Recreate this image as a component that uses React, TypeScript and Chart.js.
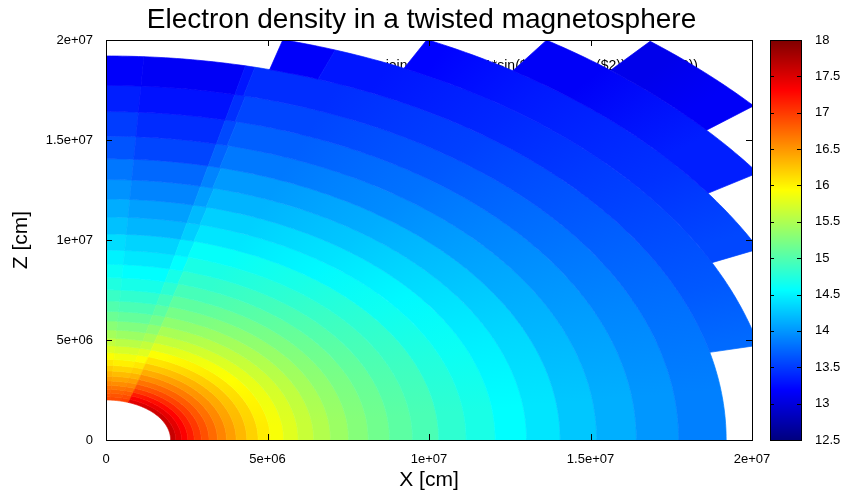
import React, { useEffect, useRef } from 'react';
import { Chart, registerables } from 'chart.js';

Chart.register(...registerables);

// ---------- data ----------
// radial cell edges, in units of 1e6 cm
const radialEdges = [
  2.0, 2.16, 2.34, 2.53, 2.73, 2.95, 3.19, 3.45, 3.73, 4.03, 4.36, 4.71, 5.09, 5.5, 5.95, 6.43, 6.95,
  7.51, 8.12, 8.78, 9.49, 10.3, 11.15, 12.05, 13.02, 14.06, 15.19, 16.42, 17.73, 19.2, 20.75, 22.35,
  24.2, 26.1,
];
// angular sector edges, degrees measured from the +Z axis
const thetaEdges = [0, 3.5, 13, 20, 30, 45, 60, 75, 90];
// the polar-cap boundary (edge index 3) is twisted: its angle for each shell
const capBoundary = [
  20.3, 20.0, 19.7, 19.4, 19.1, 18.8, 18.5, 18.2, 17.9, 17.6, 17.4, 17.2, 17.0, 16.9, 16.7, 16.5, 16.3,
  16.1, 15.9, 15.7, 15.5, 15.3, 15.1, 14.9, 14.7, 14.5, 14.3, 14.1, 13.9, 20, 20, 20, 20,
];
// angular extent of the four outermost (twisted) shells
const outerShellSpan = [
  [15.3, 76.8],
  [26.4, 64.7],
  [34.3, 56.5],
  [40.2, 50.2],
];
// log10 electron density; one row per shell, one column per angular sector
const logNe: (number | null)[][] = [
  [16.92, 16.92, 16.97, 17.47, 17.54, 17.58, 17.6, 17.62],
  [16.86, 16.86, 16.9, 17.33, 17.4, 17.44, 17.46, 17.48],
  [16.79, 16.78, 16.81, 17.17, 17.24, 17.29, 17.31, 17.33],
  [16.7, 16.67, 16.7, 17.0, 17.07, 17.12, 17.15, 17.17],
  [16.58, 16.55, 16.58, 16.84, 16.91, 16.97, 17.0, 17.02],
  [16.46, 16.43, 16.46, 16.69, 16.76, 16.82, 16.85, 16.88],
  [16.34, 16.3, 16.34, 16.54, 16.61, 16.67, 16.71, 16.74],
  [16.2, 16.16, 16.2, 16.38, 16.46, 16.52, 16.57, 16.6],
  [16.06, 16.02, 16.06, 16.23, 16.31, 16.38, 16.42, 16.46],
  [15.92, 15.87, 15.92, 16.07, 16.16, 16.23, 16.28, 16.32],
  [15.76, 15.72, 15.77, 15.92, 16.01, 16.08, 16.14, 16.18],
  [15.61, 15.56, 15.62, 15.76, 15.86, 15.94, 15.99, 16.04],
  [15.45, 15.4, 15.47, 15.61, 15.71, 15.79, 15.85, 15.9],
  [15.3, 15.25, 15.33, 15.47, 15.57, 15.65, 15.72, 15.77],
  [15.14, 15.1, 15.19, 15.33, 15.43, 15.52, 15.59, 15.64],
  [15.0, 14.96, 15.06, 15.2, 15.3, 15.39, 15.46, 15.52],
  [14.87, 14.82, 14.93, 15.07, 15.17, 15.26, 15.34, 15.4],
  [14.73, 14.68, 14.8, 14.94, 15.04, 15.14, 15.22, 15.28],
  [14.61, 14.56, 14.68, 14.82, 14.92, 15.02, 15.11, 15.17],
  [14.49, 14.44, 14.56, 14.7, 14.8, 14.91, 14.99, 15.06],
  [14.38, 14.33, 14.46, 14.59, 14.69, 14.8, 14.89, 14.96],
  [14.23, 14.17, 14.3, 14.43, 14.53, 14.64, 14.74, 14.81],
  [14.12, 14.05, 14.19, 14.31, 14.41, 14.53, 14.62, 14.7],
  [13.98, 13.9, 14.04, 14.16, 14.26, 14.38, 14.48, 14.56],
  [13.83, 13.75, 13.9, 14.02, 14.12, 14.24, 14.35, 14.43],
  [13.64, 13.56, 13.72, 13.84, 13.94, 14.07, 14.17, 14.26],
  [13.51, 13.42, 13.58, 13.7, 13.8, 13.93, 14.04, 14.13],
  [13.35, 13.28, 13.44, 13.56, 13.66, 13.79, 13.91, 14.0],
  [13.16, 13.14, 13.3, 13.43, 13.53, 13.66, 13.78, 13.88],
  [null, null, 13.16, 13.3, 13.4, 13.53, 13.66, 13.76],
  [null, null, null, 13.2, 13.32, 13.45, 13.57, null],
  [null, null, null, null, 13.15, 13.35, null, null],
  [null, null, null, null, 13.08, 13.15, null, null],
];

const axisTicks = [0, 5e6, 1e7, 1.5e7, 2e7];
const axisTickLabels = ['0', '5e+06', '1e+07', '1.5e+07', '2e+07'];
const cbTicks = [12.5, 13, 13.5, 14, 14.5, 15, 15.5, 16, 16.5, 17, 17.5, 18];
const cbTickLabels = ['12.5', '13', '13.5', '14', '14.5', '15', '15.5', '16', '16.5', '17', '17.5', '18'];
const keyText = "'< join dens b' u ($1*sin($2)):($1*cos($2)):(log10($3))";

const FONT = "'Liberation Sans', Arial, Helvetica, sans-serif";
const SMOOTH_FROM = 3; // sectors from this index on are shaded smoothly across angle (pm3d style)

function jet(t: number): string {
  const tt = Math.min(1, Math.max(0, t));
  const c = (v: number) => Math.round(255 * Math.min(1, Math.max(0, v)));
  return `rgb(${c(1.5 - Math.abs(4 * tt - 3))},${c(1.5 - Math.abs(4 * tt - 2))},${c(1.5 - Math.abs(4 * tt - 1))})`;
}

const heatmapPlugin = {
  id: 'polarHeatmap',
  afterDatasetsDraw(chart: any) {
    const { ctx, chartArea: ca, scales } = chart;
    const xs = scales.x;
    const ys = scales.y;
    const cb = scales.cb;
    const cbMin = cb.min;
    const cbMax = cb.max;
    const colorOf = (v: number) => jet((v - cbMin) / (cbMax - cbMin));

    ctx.save();
    // key text (mostly hidden behind the map)
    ctx.font = `14px ${FONT}`;
    ctx.fillStyle = '#000';
    ctx.textAlign = 'right';
    ctx.textBaseline = 'alphabetic';
    ctx.fillText(keyText, ca.right - 54, ca.top + 30);

    ctx.beginPath();
    ctx.rect(ca.left, ca.top, ca.right - ca.left, ca.bottom - ca.top);
    ctx.clip();

    const ox = xs.getPixelForValue(0);
    const oy = ys.getPixelForValue(0);
    const sx = xs.getPixelForValue(1e6) - ox;
    const sy = oy - ys.getPixelForValue(1e6);
    const px = (r: number, th: number) => {
      const rad = (th * Math.PI) / 180;
      return [xs.getPixelForValue(r * 1e6 * Math.sin(rad)), ys.getPixelForValue(r * 1e6 * Math.cos(rad))];
    };
    const toOffset = (th: number) => {
      const rad = (th * Math.PI) / 180;
      const phi = Math.atan2(-Math.cos(rad) * sy, Math.sin(rad) * sx);
      return Math.min(1, Math.max(0, (phi + Math.PI / 2) / (2 * Math.PI)));
    };
    const cellPath = (r0: number, r1: number, a: number, b: number) => {
      const n = Math.max(2, Math.ceil((b - a) / 0.5));
      ctx.beginPath();
      for (let i = 0; i <= n; i++) {
        const [x, y] = px(r0, a + ((b - a) * i) / n);
        if (i === 0) ctx.moveTo(x, y);
        else ctx.lineTo(x, y);
      }
      for (let i = n; i >= 0; i--) {
        const [x, y] = px(r1, a + ((b - a) * i) / n);
        ctx.lineTo(x, y);
      }
      ctx.closePath();
    };
    const paint = (style: any) => {
      ctx.fillStyle = style;
      ctx.strokeStyle = style;
      ctx.lineWidth = 0.7;
      ctx.fill();
      ctx.stroke();
    };
    const hasConic = typeof ctx.createConicGradient === 'function';

    for (let k = 0; k < radialEdges.length - 1; k++) {
      const r0 = radialEdges[k];
      const r1 = radialEdges[k + 1];
      const span = k < 29 ? [0, 90] : outerShellSpan[k - 29];
      const row = logNe[k];
      const edges = thetaEdges.slice();
      edges[3] = capBoundary[k];
      const smooth: { a: number; b: number; v: number }[] = [];
      for (let s = 0; s < edges.length - 1; s++) {
        const v = row[s];
        if (v === null || v === undefined) continue;
        const a = Math.max(edges[s], span[0]);
        const b = Math.min(edges[s + 1], span[1]);
        if (a >= b) continue;
        if (s < SMOOTH_FROM || !hasConic) {
          cellPath(r0, r1, a, b);
          paint(colorOf(v));
        } else {
          smooth.push({ a, b, v });
        }
      }
      if (smooth.length) {
        const g = ctx.createConicGradient(-Math.PI / 2, ox, oy);
        smooth.forEach((c) => g.addColorStop(toOffset((c.a + c.b) / 2), colorOf(c.v)));
        cellPath(r0, r1, smooth[0].a, smooth[smooth.length - 1].b);
        paint(g);
      }
    }
    ctx.restore();

    ctx.save();
    // border
    ctx.strokeStyle = '#000';
    ctx.lineWidth = 1;
    ctx.strokeRect(Math.round(ca.left) + 0.5, Math.round(ca.top) + 0.5, Math.round(ca.right - ca.left), Math.round(ca.bottom - ca.top));
    // tick marks (inward, mirrored)
    const tl = 6;
    ctx.beginPath();
    axisTicks.forEach((v) => {
      const x = Math.round(xs.getPixelForValue(v)) + 0.5;
      ctx.moveTo(x, ca.bottom);
      ctx.lineTo(x, ca.bottom - tl);
      ctx.moveTo(x, ca.top);
      ctx.lineTo(x, ca.top + tl);
      const y = Math.round(ys.getPixelForValue(v)) + 0.5;
      ctx.moveTo(ca.left, y);
      ctx.lineTo(ca.left + tl, y);
      ctx.moveTo(ca.right, y);
      ctx.lineTo(ca.right - tl, y);
    });
    ctx.stroke();

    // colour box
    const bx0 = ca.right + 18;
    const bx1 = ca.right + 49;
    const top = Math.round(cb.getPixelForValue(cbMax));
    const bot = Math.round(cb.getPixelForValue(cbMin));
    for (let y = top; y < bot; y++) {
      const v = cb.getValueForPixel(y + 0.5);
      ctx.fillStyle = colorOf(v);
      ctx.fillRect(bx0, y, bx1 - bx0, 1);
    }
    ctx.strokeStyle = '#000';
    ctx.lineWidth = 1;
    ctx.strokeRect(bx0 + 0.5, top + 0.5, bx1 - bx0, bot - top);
    ctx.beginPath();
    cbTicks.forEach((v) => {
      const y = Math.round(cb.getPixelForValue(v)) + 0.5;
      ctx.moveTo(bx0, y);
      ctx.lineTo(bx0 + 4, y);
      ctx.moveTo(bx1, y);
      ctx.lineTo(bx1 - 4, y);
    });
    ctx.stroke();
    ctx.restore();
  },
};

export default function App() {
  const ref = useRef<HTMLCanvasElement>(null);
  useEffect(() => {
    const tickFont = { family: FONT, size: 13 };
    const chart = new Chart(ref.current as HTMLCanvasElement, {
      type: 'scatter',
      data: { datasets: [] },
      options: {
        animation: false,
        responsive: false,
        devicePixelRatio: 1,
        layout: { padding: 0 },
        plugins: {
          legend: { display: false },
          tooltip: { enabled: false },
          title: {
            display: true,
            text: 'Electron density in a twisted magnetosphere',
            color: '#000',
            font: { family: FONT, size: 28, weight: 'normal' },
            padding: { top: 3.2, bottom: 3.2 },
          },
        },
        scales: {
          x: {
            type: 'linear',
            position: 'bottom',
            min: 0,
            max: 2e7,
            afterBuildTicks: (s: any) => {
              s.ticks = axisTicks.map((v) => ({ value: v }));
            },
            afterFit: (s: any) => {
              s.height = 53;
              s.paddingLeft = 0;
              s.paddingRight = 0;
            },
            ticks: {
              callback: (_v: any, i: number) => axisTickLabels[i],
              font: tickFont,
              color: '#000',
              padding: 12,
              maxRotation: 0,
              autoSkip: false,
            },
            grid: { display: false, drawTicks: false },
            border: { display: false },
            title: {
              display: true,
              text: 'X [cm]',
              color: '#000',
              font: { family: FONT, size: 21 },
              padding: { top: 0, bottom: 0.4 },
            },
          },
          y: {
            type: 'linear',
            position: 'left',
            min: 0,
            max: 2e7,
            afterBuildTicks: (s: any) => {
              s.ticks = axisTicks.map((v) => ({ value: v }));
            },
            afterFit: (s: any) => {
              s.width = 106;
              s.paddingTop = 0;
              s.paddingBottom = 0;
            },
            ticks: {
              callback: (_v: any, i: number) => axisTickLabels[i],
              font: tickFont,
              color: '#000',
              padding: 13,
              autoSkip: false,
            },
            grid: { display: false, drawTicks: false },
            border: { display: false },
            title: {
              display: true,
              text: 'Z [cm]',
              color: '#000',
              font: { family: FONT, size: 21 },
              padding: { top: 8.4, bottom: 0 },
            },
          },
          cb: {
            type: 'linear',
            position: 'right',
            min: 12.5,
            max: 18,
            afterBuildTicks: (s: any) => {
              s.ticks = cbTicks.map((v) => ({ value: v }));
            },
            afterFit: (s: any) => {
              s.width = 91;
              s.paddingTop = 0;
              s.paddingBottom = 0;
            },
            ticks: {
              callback: (_v: any, i: number) => cbTickLabels[i],
              font: tickFont,
              color: '#000',
              padding: 63,
              autoSkip: false,
            },
            grid: { display: false, drawTicks: false },
            border: { display: false },
          },
        },
      },
      plugins: [heatmapPlugin],
    } as any);
    return () => chart.destroy();
  }, []);
  return (
    <div style={{ position: 'fixed', left: 0, top: 0, width: 843, height: 493, background: '#fff' }}>
      <canvas ref={ref} width={843} height={493} style={{ display: 'block' }} />
    </div>
  );
}
